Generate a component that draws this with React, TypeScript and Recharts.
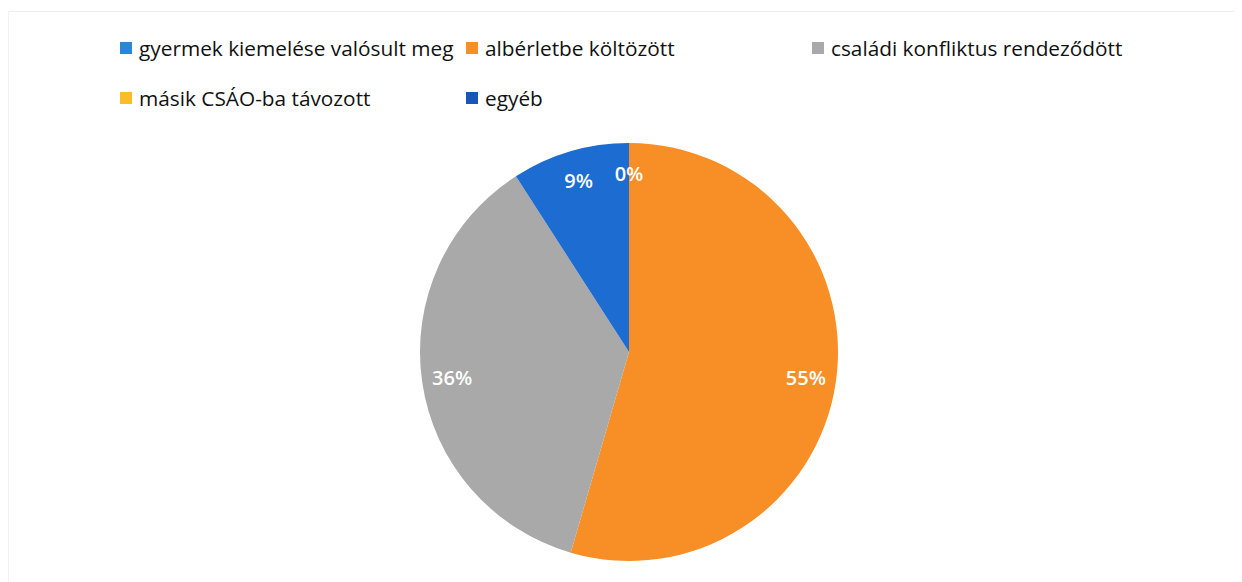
import { PieChart, Pie, Cell } from "recharts"

const categories = [
  "gyermek kiemelése valósult meg",
  "albérletbe költözött",
  "családi konfliktus rendeződött",
  "másik CSÁO-ba távozott",
  "egyéb",
]
// shares (labels show rounded %)
const shares = [0, 54.5, 36.4, 0, 9.1]
const sliceColors = ["#2a86d6", "#f78f26", "#a9a9a9", "#fbbd25", "#1c6cd2"]
const legendColors = ["#2a86d6", "#f78f26", "#a9a9a9", "#fbbd25", "#1a55b8"]

const data = categories.map((name, i) => ({ name, value: shares[i] }))

const RAD = Math.PI / 180

function renderLabel({ cx, cy, midAngle, outerRadius, value, index }: any) {
  // second zero slice label is hidden in the original (overlaps)
  if (value === 0 && index > 0) return null
  const r = outerRadius * 0.855
  const x = cx + r * Math.cos(-midAngle * RAD)
  const y = cy + r * Math.sin(-midAngle * RAD)
  return (
    <text
      x={x}
      y={y}
      fill="#fff"
      textAnchor="middle"
      dominantBaseline="central"
      fontSize={20}
      fontWeight={600}
      fontFamily="'Open Sans', sans-serif"
    >
      {`${Math.round(value)}%`}
    </text>
  )
}

function LegendGrid() {
  return (
    <div style={{ position: "absolute", left: 112, top: 26, width: 1100, height: 100 }}>
      {categories.map((name, i) => (
        <div
          key={name}
          style={{
            position: "absolute",
            left: (i % 3) * 346,
            top: Math.floor(i / 3) * 50,
            display: "flex",
            alignItems: "center",
            fontFamily: "'Open Sans', sans-serif",
            fontSize: 20.8,
            color: "#111",
            whiteSpace: "nowrap",
          }}
        >
          <span style={{ width: 12, height: 12, background: legendColors[i], marginRight: 7, display: "inline-block" }} />
          {name}
        </div>
      ))}
    </div>
  )
}

export default function App() {
  return (
    <div style={{ position: "relative", width: 1234, height: 574, background: "#fff" }}>
      <div style={{ position: "absolute", left: 0, top: 3, width: 1234, height: 1, background: "#eeeeee" }} />
      <div style={{ position: "absolute", left: 0, top: 3, width: 1, height: 571, background: "#f2f2f2" }} />
      <LegendGrid />
      <PieChart width={1234} height={574} margin={{ top: 0, right: 0, bottom: 0, left: 0 }}>
        <Pie
          data={data}
          dataKey="value"
          nameKey="name"
          cx={621}
          cy={344}
          outerRadius={209}
          startAngle={90}
          endAngle={-270}
          stroke="none"
          labelLine={false}
          label={renderLabel}
          isAnimationActive={false}
        >
          {data.map((entry, i) => (
            <Cell key={entry.name} fill={sliceColors[i]} />
          ))}
        </Pie>
      </PieChart>
    </div>
  )
}
